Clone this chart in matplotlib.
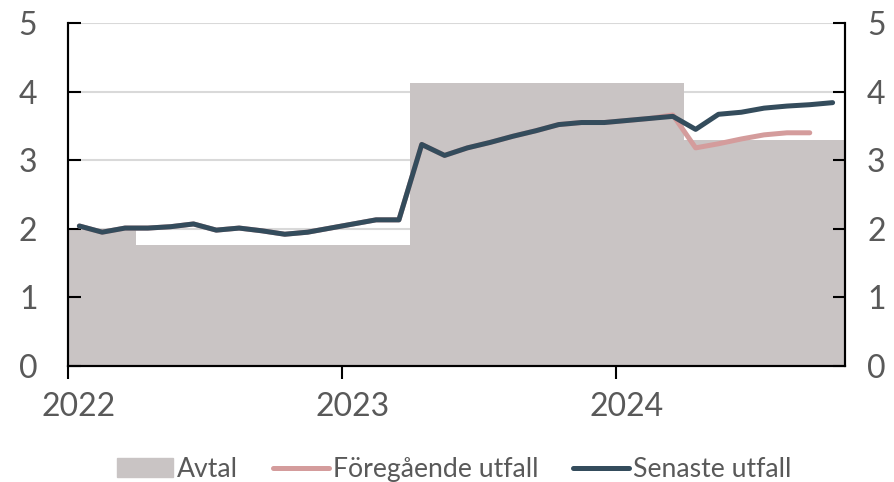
import matplotlib.pyplot as plt
import matplotlib.patches as mpatches
import matplotlib.transforms as mtransforms
import numpy as np

plt.rcParams['font.family'] = ['Lato', 'DejaVu Sans']

# monthly observations Jan 2022 - Oct 2024
senaste = [2.04, 1.95, 2.01, 2.01, 2.03, 2.07, 1.98, 2.01, 1.97, 1.92, 1.95, 2.01,
           2.07, 2.13, 2.13, 3.23, 3.07, 3.18, 3.26, 3.35, 3.43, 3.52, 3.55, 3.55,
           3.58, 3.61, 3.64, 3.45, 3.67, 3.70, 3.76, 3.79, 3.81, 3.84]
# previous release, Jan 2022 - Sep 2024
foregaende = [2.04, 1.95, 2.01, 2.01, 2.03, 2.07, 1.98, 2.01, 1.97, 1.92, 1.95, 2.01,
              2.07, 2.13, 2.13, 3.23, 3.07, 3.18, 3.26, 3.35, 3.43, 3.52, 3.55, 3.55,
              3.58, 3.61, 3.66, 3.18, 3.24, 3.31, 3.37, 3.40, 3.40]
# wage agreements: level and number of months
avtal_level = [2.0, 1.76, 4.12, 3.3]
avtal_months = [3, 12, 12, 7]

c_avtal = '#c9c4c4'
c_fore = '#d49c9c'
c_sen = '#344c5c'
c_text = '#595959'

x_sen = 2022 + (np.arange(len(senaste)) + 0.5) / 12
x_fore = 2022 + (np.arange(len(foregaende)) + 0.5) / 12
avtal = np.repeat(avtal_level, avtal_months)
x_edges = 2022 + np.arange(len(avtal) + 1) / 12
avtal_ext = np.append(avtal, avtal[-1])

fig = plt.figure(figsize=(8.94, 4.82), dpi=100)
ax = fig.add_axes([0.076, 0.241, 0.869, 0.711])
ax2 = ax.twinx()

for y in [1, 2, 3, 4, 5]:
    ax.axhline(y, color='#d9d9d9', lw=1.5, zorder=0)

ax.fill_between(x_edges, 0, avtal_ext, step='post', color=c_avtal, lw=0, zorder=1)
ax.plot(x_fore, foregaende, color=c_fore, lw=3.6, solid_capstyle='round', zorder=2)
ax.plot(x_sen, senaste, color=c_sen, lw=3.6, solid_capstyle='round', zorder=3)

ax.set_xlim(2022, 2024 + 10 / 12 + 0.003)
ax.set_ylim(0, 5)
ax2.set_ylim(0, 5)
ax.set_xticks([2022, 2023, 2024])
ax.set_xticklabels(['2022', '2023', '2024'])
ax.set_yticks([0, 1, 2, 3, 4, 5])
ax2.set_yticks([0, 1, 2, 3, 4, 5])

for a in [ax, ax2]:
    for s in ['left', 'right', 'bottom']:
        a.spines[s].set_linewidth(1.5)
        a.spines[s].set_color('black')
    a.spines['top'].set_visible(False)

ax.tick_params(axis='y', direction='in', length=9, width=1.5, labelsize=23,
               labelcolor=c_text, pad=22)
ax2.tick_params(axis='y', direction='in', length=9, width=1.5, labelsize=23,
                labelcolor=c_text, pad=16)
ax.tick_params(axis='x', direction='out', length=9, width=1.5, labelsize=23,
               labelcolor=c_text, pad=10)

# year labels sit a little to the right of their ticks
shift = mtransforms.ScaledTranslation(11 / 100, 0, fig.dpi_scale_trans)
for lab in ax.get_xticklabels():
    lab.set_transform(lab.get_transform() + shift)

handles = [mpatches.Patch(color=c_avtal, label='Avtal'),
           plt.Line2D([], [], color=c_fore, lw=3.6, solid_capstyle='round', label='Föregående utfall'),
           plt.Line2D([], [], color=c_sen, lw=3.6, solid_capstyle='round', label='Senaste utfall')]
fig.legend(handles=handles, loc='lower center', bbox_to_anchor=(0.508, -0.05), ncol=3,
           frameon=False, fontsize=19.2, handlelength=2.1, handletextpad=0.15,
           columnspacing=1.3, labelcolor=c_text)

fig.savefig('out.png', dpi=100)
